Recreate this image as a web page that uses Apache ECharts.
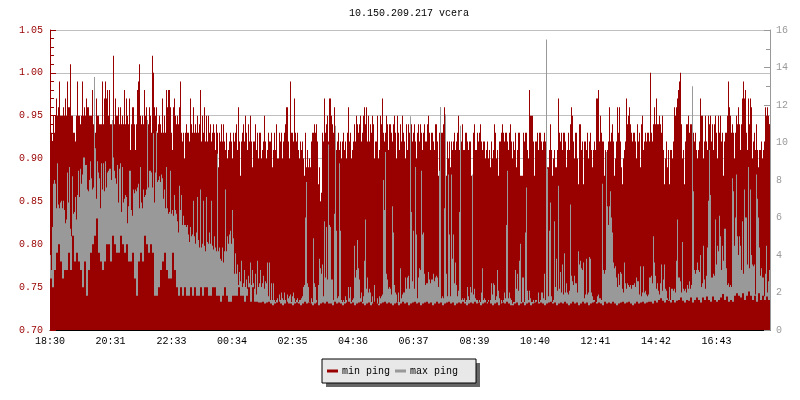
<!DOCTYPE html>
<html><head><meta charset="utf-8">
<script src="https://cdn.jsdelivr.net/npm/echarts@6/dist/echarts.min.js"></script>
<style>html,body{margin:0;padding:0;background:#fff}#c{width:800px;height:400px}</style></head>
<body><div id="c"></div>
<script>
const sampleStepMinutes = 2;
const tickMinutes = [0,121,243,364,485,606,727,849,970,1091,1212,1333];
const tickLabels = ["18:30","20:31","22:33","00:34","02:35","04:36","06:37","08:39","10:40","12:41","14:42","16:43"];
const minPing = [
.93,.93,.92,.95,.93,.95,.97,.95,.96,.99,.95,.95,.95,.96,.95,.97,.95,.99,.96,.96,
1.01,.95,.95,.93,.93,.92,.95,.99,.95,.95,.94,.95,.99,.95,.96,.95,.97,.96,.96,.95,
.95,.95,.98,.94,.95,.93,.97,.95,.95,.94,.94,.94,.99,.94,.97,.99,.97,.98,.95,.98,
.94,.94,.94,1.02,.94,.97,.95,.95,.96,.94,.96,.94,.95,.94,.98,.94,.97,.95,.94,.97,
.91,.94,.96,.96,.94,.91,.94,.98,.99,1.01,.95,.94,.95,.94,.98,.95,.96,.94,.94,.96,
.95,.93,1.02,1.00,.96,.95,.96,.93,.94,.95,.94,.93,.97,.93,.95,.93,.98,.96,.98,.98,
.96,.93,.91,.96,.97,.95,.94,.95,.94,.96,.99,.93,.92,.93,.90,.93,.94,.93,.93,.92,
.97,.94,.93,.96,.93,.94,.93,.95,.93,.94,.98,.92,.95,.93,.96,.92,.95,.92,.95,.93,
.94,.92,.93,.94,.93,.91,.94,.93,.89,.93,.92,.94,.92,.94,.92,.91,.93,.90,.91,.92,
.93,.92,.90,.93,.92,.93,.94,.91,.96,.92,.88,.92,.93,.94,.92,.95,.93,.91,.94,.92,
.95,.92,.89,.92,.92,.94,.91,.93,.90,.93,.93,.90,.91,.92,.95,.92,.90,.91,.93,.92,
.92,.93,.89,.91,.93,.91,.94,.90,.90,.93,.92,.93,.90,.92,.93,.94,.96,.96,.92,.90,
.99,.93,.93,.92,.97,.93,.92,.93,.91,.90,.92,.91,.92,.90,.88,.93,.89,.91,.89,.90,
.89,.92,.93,.93,.94,.93,.94,.92,.87,.89,.85,.86,.93,.92,.97,.93,.94,.95,.92,.97,
.97,.95,.94,.93,.96,.92,.91,.92,.93,.91,.92,.90,.92,.93,.91,.92,.90,.93,.96,.92,
.93,.90,.91,.92,.94,.92,.95,.94,.93,.94,.95,.92,.93,.95,.96,.94,.96,.92,.95,.92,
.94,.93,.95,.94,.90,.92,.92,.95,.90,.91,.95,.94,.97,.93,.92,.93,.95,.94,.91,.94,
.94,.93,.92,.94,.95,.93,.90,.95,.93,.91,.94,.92,.95,.93,.92,.90,.94,.91,.94,.93,
.93,.94,.92,.93,.94,.92,.90,.93,.94,.92,.94,.93,.91,.93,.94,.92,.92,.94,.95,.93,
.91,.93,.93,.92,.91,.94,.94,.92,.88,.93,.92,.93,.93,.94,.96,.95,.88,.92,.90,.92,
.89,.92,.91,.92,.93,.91,.92,.93,.95,.91,.89,.92,.94,.91,.91,.93,.93,.92,.91,.92,
.92,.88,.88,.93,.94,.91,.91,.93,.92,.93,.94,.92,.91,.92,.92,.90,.91,.92,.90,.91,
.89,.92,.90,.91,.94,.93,.90,.91,.88,.92,.92,.93,.94,.93,.92,.93,.93,.92,.91,.93,
.94,.92,.90,.92,.91,.93,.89,.91,.93,.93,.88,.88,.88,.93,.92,.93,.93,.91,.90,.98,
.95,.95,.95,.92,.88,.92,.92,.93,.91,.93,.93,.92,.91,.92,.93,.92,.88,.89,.89,.91,
.94,.91,.88,.90,.91,.89,.89,.91,.97,.93,.92,.93,.91,.93,.93,.92,.89,.91,.93,.91,
.94,.96,.95,.92,.90,.93,.93,.90,.87,.94,.94,.91,.92,.87,.92,.92,.91,.93,.90,.92,
.93,.91,.89,.91,.92,.91,.97,.97,.98,.92,.95,.93,.92,.92,.88,.91,.89,.91,.92,.96,
.92,.93,.94,.92,.88,.90,.92,.96,.93,.96,.92,.89,.87,.90,.91,.92,.97,.94,.95,.96,
.94,.93,.92,.93,.93,.92,.90,.94,.92,.93,.89,.94,.95,.91,.92,.93,.92,.93,.93,.92,
1.00,.93,.92,.94,.96,.94,.97,.94,.94,.95,.94,.93,.95,.91,.87,.90,.92,.89,.91,.87,
.91,.91,.90,.92,.96,.95,.96,.97,.98,.99,1.00,.94,.90,.91,.87,.92,.94,.94,.95,.93,
.94,.94,.95,.93,.92,.93,.91,.90,.91,.92,.97,.95,.95,.90,.92,.95,.92,.91,.95,.94,
.95,.92,.94,.91,.94,.95,.93,.90,.95,.93,.95,.92,.93,.88,.92,.93,.93,.95,.99,.96,
.95,.93,.94,.93,.90,.93,.95,.94,.96,.94,.91,.94,.97,.99,.97,.98,.93,.91,.97,.94,
.97,.96,.90,.92,.93,.91,.94,.91,.89,.91,.91,.92,.90,.91,.92,.96,.95,.96,.95,.94
];
const maxPing = [
4.0,3.2,5.5,7.8,8.0,7.8,6.5,8.9,6.7,6.5,6.8,6.9,6.5,6.9,6.4,5.7,5.9,8.4,6.8,8.7,
5.4,5.0,8.2,6.2,6.3,7.1,5.9,7.2,8.5,7.1,8.6,7.8,8.3,9.2,9.2,8.8,8.8,7.5,7.4,8.0,
9.0,8.1,7.5,7.6,13.5,9.7,7.0,9.0,8.4,8.1,6.5,8.9,7.5,8.9,7.4,9.0,7.6,8.4,8.5,8.6,
8.6,8.0,11.2,9.2,8.5,8.1,7.8,8.8,6.8,8.6,8.9,6.3,8.7,6.8,7.0,7.2,7.1,5.7,6.6,8.5,
8.5,6.4,6.1,7.5,7.3,7.5,7.4,7.6,7.8,6.5,8.7,6.8,6.5,7.5,7.1,7.2,7.5,11.2,7.6,8.5,
8.5,8.4,7.6,10.5,6.8,8.4,10.6,7.9,8.0,8.2,7.9,8.3,8.1,7.0,7.5,6.5,8.7,6.5,6.2,6.3,
8.5,6.2,6.4,6.1,7.2,6.4,6.2,5.8,5.2,7.7,6.4,7.2,5.6,6.1,5.6,5.6,5.5,5.6,5.1,4.7,
5.5,5.0,5.1,6.9,5.0,4.6,5.2,7.1,4.8,4.4,7.5,4.4,4.6,6.9,4.5,4.2,7.1,4.7,4.6,5.2,
4.6,6.9,4.5,4.3,5.0,4.4,4.2,9.4,4.2,4.4,3.8,3.7,4.4,3.6,4.2,7.5,4.2,5.0,4.6,5.1,
5.3,4.6,6.4,4.9,3.0,4.1,3.0,3.5,2.4,3.1,2.6,3.7,2.3,2.5,3.2,2.3,2.7,2.2,2.9,2.5,
3.6,2.4,3.2,2.5,2.2,3.0,1.9,3.7,2.3,2.5,3.2,2.3,2.5,2.9,2.2,2.6,2.5,3.6,1.8,3.6,
1.6,2.5,1.6,2.5,1.6,1.5,1.6,1.7,1.5,1.9,1.6,2.0,1.7,1.6,2.0,1.6,1.5,1.9,1.7,1.8,
1.9,1.5,1.8,2.0,1.7,1.5,1.6,1.7,1.5,1.6,1.6,1.7,1.8,2.3,2.4,6.0,7.9,2.5,2.3,1.5,
1.4,1.7,1.5,4.9,2.5,2.3,1.6,1.4,2.4,3.8,3.3,3.0,3.5,1.8,5.8,2.8,5.5,2.7,9.9,5.6,
5.5,2.7,2.7,1.6,6.2,10.9,5.3,1.7,1.8,8.9,5.3,1.6,1.5,1.6,1.5,1.8,1.6,1.4,2.3,1.7,
2.3,1.5,1.6,1.7,4.5,2.8,3.2,4.8,3.3,2.7,1.7,2.0,1.5,1.8,3.7,5.9,2.2,2.8,2.0,2.2,
2.0,1.5,1.8,1.4,2.4,1.5,1.4,1.7,1.4,1.8,1.7,1.8,1.9,8.0,6.4,9.5,3.0,2.7,2.2,2.3,
2.2,1.9,6.6,5.2,2.4,2.0,1.9,1.5,2.0,1.5,3.3,1.7,1.9,2.0,2.0,2.8,2.2,2.8,2.9,2.2,
11.4,6.3,2.6,5.3,2.2,8.7,5.1,1.7,2.8,3.3,3.2,8.5,5.1,5.2,3.0,2.4,2.5,2.5,3.1,2.7,
2.5,2.7,2.7,3.0,2.6,2.8,2.9,2.8,2.3,8.5,11.9,1.7,1.8,1.7,6.5,11.5,3.0,1.8,8.3,5.1,
1.8,8.3,3.8,5.1,2.5,3.6,2.4,1.8,2.1,6.3,10.9,1.6,1.7,1.6,1.7,1.5,1.6,2.3,1.8,1.6,
2.3,2.0,8.3,1.9,2.2,1.7,1.6,1.6,1.5,1.6,1.5,2.0,3.3,1.6,1.7,1.6,1.4,1.5,1.6,1.5,
1.6,2.5,1.9,2.5,2.4,1.6,1.8,3.2,2.1,1.7,1.4,1.6,1.5,1.6,2.0,1.7,5.6,8.5,1.7,2.0,
1.7,1.6,1.4,1.5,1.5,3.2,2.2,3.0,2.1,3.7,4.6,1.5,2.8,2.8,1.5,5.2,7.6,2.1,1.6,2.1,
1.7,1.5,1.5,1.6,1.5,1.6,1.6,1.5,2.0,1.5,1.6,2.0,2.0,1.7,3.0,1.6,15.5,8.6,1.8,5.3,
6.8,1.8,1.5,1.6,5.8,2.3,3.8,2.1,7.7,2.2,3.1,2.0,3.5,1.9,4.1,2.0,2.5,2.0,1.9,2.1,
6.7,2.9,2.6,2.4,2.9,2.5,2.5,2.0,4.2,3.5,3.7,3.3,3.2,3.6,1.7,1.9,3.8,1.9,2.0,3.9,
3.8,2.0,1.8,1.6,1.6,1.5,1.5,1.8,1.9,1.7,1.7,1.6,7.8,3.2,3.0,3.2,9.5,6.6,5.6,6.6,
7.4,6.0,5.2,3.6,3.3,3.4,2.8,2.3,3.0,2.4,3.1,3.0,2.2,2.0,3.6,2.5,2.2,2.5,2.4,2.3,
2.4,2.2,2.4,2.4,2.5,2.3,2.8,2.6,2.6,1.9,3.4,1.8,2.0,3.4,2.0,2.1,1.9,1.8,1.9,2.8,
2.8,2.9,2.5,5.0,3.6,2.9,2.2,2.5,2.1,1.9,2.5,3.5,2.1,2.7,3.5,2.2,2.1,1.7,1.6,2.3,
1.6,2.2,2.2,2.1,2.2,2.0,3.7,5.9,2.8,2.8,2.6,2.0,4.7,2.2,2.1,2.2,2.0,2.4,2.2,2.6,
2.2,2.4,13.0,7.4,3.2,3.0,3.2,3.6,3.2,3.1,4.0,2.3,2.5,4.5,2.7,2.2,2.9,4.4,6.9,9.6,
7.2,2.8,2.8,3.0,2.9,5.9,3.5,4.5,4.2,6.1,5.0,3.2,4.5,3.7,5.4,5.4,3.3,2.4,2.5,2.3,
2.4,2.3,8.1,7.4,4.5,6.0,8.3,5.0,4.0,5.0,4.5,3.2,5.8,3.0,7.5,6.0,6.0,3.5,8.7,3.3,
7.5,4.0,3.5,3.4,3.5,1.9,8.3,7.0,6.0,4.4,2.9,3.3,2.8,2.8,1.8,3.0,4.5,2.0,2.6,3.2
];
const minPingFloor = [
.76,.75,.77,.79,.80,.78,.76,.77,.77,.79,.77,.81,.78,.79,.78,.77,.75,.78,.74,.77,
.79,.80,.81,.83,.79,.78,.77,.78,.80,.80,.78,.81,.80,.79,.79,.81,.80,.79,.80,.78,
.78,.79,.76,.74,.78,.79,.78,.81,.80,.79,.80,.79,.74,.74,.75,.77,.78,.79,.77,.76,
.76,.79,.77,.75,.74,.75,.74,.75,.74,.74,.75,.74,.75,.74,.74,.75,.74,.75,.75,.74,
.74,.75,.75,.74,.74,.733,.74,.75,.74,.733,.733,.74,.74,.74,.75,.74,.74,.733,.74,.75,
.733,.75,.733,.733,.732,.732,.733,.731,.732,.733,.731,.729,.731,.732,.733,.731,.729,.731,.733,.731,
.731,.729,.731,.732,.731,.729,.731,.733,.731,.732,.731,.729,.731,.732,.729,.731,.732,.731,.733,.731,
.731,.729,.733,.731,.732,.731,.729,.731,.732,.733,.731,.732,.729,.731,.732,.733,.731,.729,.731,.732,
.729,.731,.733,.731,.729,.731,.732,.733,.731,.732,.731,.729,.731,.732,.729,.731,.733,.731,.732,.729,
.731,.732,.733,.731,.732,.729,.731,.732,.733,.731,.732,.729,.731,.733,.731,.732,.729,.731,.732,.733,
.731,.732,.729,.731,.732,.731,.733,.731,.729,.731,.732,.731,.733,.731,.732,.729,.731,.732,.731,.733,
.731,.729,.731,.732,.729,.731,.732,.731,.733,.731,.729,.729,.731,.732,.729,.731,.732,.729,.731,.732,
.729,.731,.732,.733,.731,.732,.731,.729,.731,.732,.733,.731,.732,.729,.731,.732,.731,.733,.731,.729,
.731,.733,.731,.732,.729,.731,.733,.731,.732,.729,.731,.732,.733,.731,.732,.731,.729,.733,.731,.732,
.731,.733,.731,.729,.731,.732,.733,.731,.732,.733,.731,.729,.731,.733,.731,.732,.733,.731,.732,.733,
.733,.731,.734,.732,.735,.737,.734,.732,.735,.734,.732,.735,.732,.734,.735,.738,.734,.732,.735,.734,
.738,.732,.735,.738,.735,.732,.738,.735,.739,.735,.733,.739,.735,.733,.735,.738,.742,.735,.739,.733,
.735,.733,.74,.743,.74,.738,.743,.735,.74,.745,.74,.735,.74,.733,.743,.735,.74,.735,.739,.735
];

const MONO = '"Liberation Mono", "DejaVu Sans Mono", monospace';
const RED = '#990000', GREY = '#999999';
const toPairs = arr => arr.map((v, i) => [i * sampleStepMinutes + sampleStepMinutes / 2, v]);
const floorFine = minPingFloor.flatMap(v => [v, v]);
const barBase = { type: 'bar', barWidth: 1, barGap: '-100%', silent: true };

const chart = echarts.init(document.getElementById('c'), null, { renderer: 'canvas' });
chart.setOption({
  animation: false,
  backgroundColor: '#ffffff',
  title: {
    text: '10.150.209.217 vcera', left: 409, top: 8, textAlign: 'center', padding: 0,
    textStyle: { fontFamily: MONO, fontSize: 10, fontWeight: 'normal', color: '#000' }
  },
  graphic: [{ type: 'rect', left: 326, top: 363, z: 1, shape: { width: 154, height: 24 }, style: { fill: '#666666' }, silent: true }],
  grid: { left: 50, right: 30, top: 30, bottom: 70, containLabel: false },
  legend: {
    left: 322, top: 359, orient: 'horizontal', z: 5,
    data: ['min ping', 'max ping'],
    icon: 'rect', itemWidth: 11, itemHeight: 3, itemGap: 5,
    padding: [7, 18, 7, 5],
    backgroundColor: '#e8e8e8', borderColor: '#000', borderWidth: 1, borderRadius: 0,
    textStyle: { fontFamily: MONO, fontSize: 10, color: '#000', padding: [0, 0, 0, -1] },
    selectedMode: false
  },
  xAxis: {
    type: 'value', min: 0, max: 1440,
    splitLine: { show: false },
    axisLine: { show: true, onZero: false, lineStyle: { color: '#000', width: 1 } },
    axisTick: { show: true, inside: true, length: 5, lineStyle: { color: '#000' }, customValues: tickMinutes },
    axisLabel: {
      show: true, margin: 6, fontFamily: MONO, fontSize: 10, color: '#000',
      customValues: tickMinutes,
      formatter: v => tickLabels[tickMinutes.indexOf(v)] || ''
    }
  },
  yAxis: [
    {
      type: 'value', min: 0.70, max: 1.05, interval: 0.05, position: 'left',
      axisLine: { show: true, lineStyle: { color: RED, width: 1 } },
      axisTick: { show: true, inside: true, length: 6, lineStyle: { color: RED } },
      minorTick: { show: true, splitNumber: 5, length: 4, lineStyle: { color: RED } },
      splitLine: { show: true, lineStyle: { color: '#c0c0c0', width: 1, type: 'solid' } },
      axisLabel: { margin: 7, padding: [2, 0, 0, 0], fontFamily: MONO, fontSize: 10, color: RED, formatter: v => v.toFixed(2) }
    },
    {
      type: 'value', min: 0, max: 16, interval: 2, position: 'right',
      axisLine: { show: true, lineStyle: { color: GREY, width: 1 } },
      axisTick: { show: true, inside: true, length: 6, lineStyle: { color: GREY } },
      minorTick: { show: true, splitNumber: 2, length: 4, lineStyle: { color: GREY } },
      splitLine: { show: false },
      axisLabel: { margin: 6, padding: [2, 0, 0, 0], fontFamily: MONO, fontSize: 10, color: GREY }
    }
  ],
  series: [
    Object.assign({}, barBase, { name: 'min ping', yAxisIndex: 0, itemStyle: { color: RED }, data: toPairs(minPing) }),
    Object.assign({}, barBase, { name: 'max ping', yAxisIndex: 1, itemStyle: { color: GREY }, data: toPairs(maxPing) }),
    Object.assign({}, barBase, { name: 'min ping floor', yAxisIndex: 0, itemStyle: { color: RED }, data: toPairs(floorFine) })
  ]
});
</script></body></html>
